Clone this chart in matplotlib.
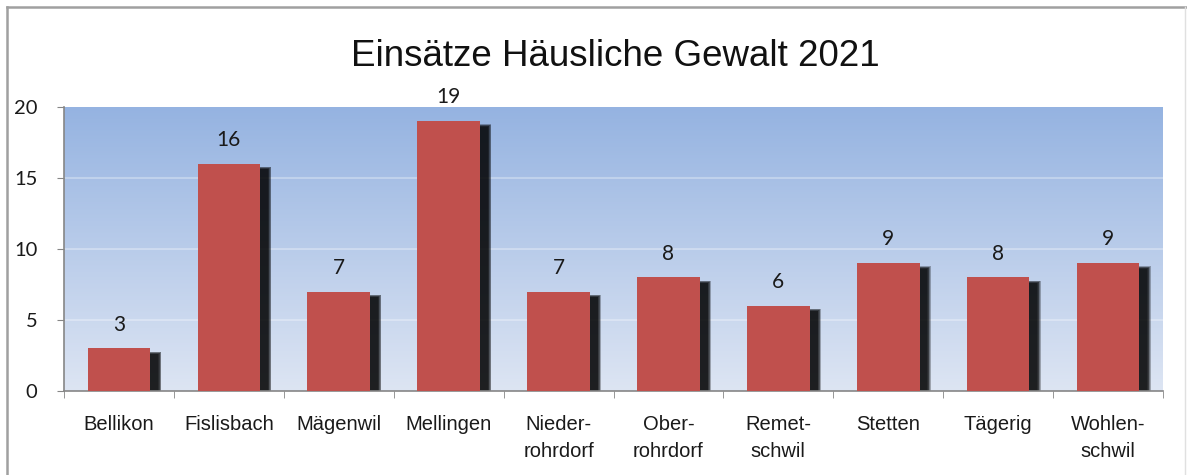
import matplotlib
matplotlib.use("Agg")
import matplotlib.pyplot as plt
import numpy as np
from matplotlib.lines import Line2D
from matplotlib.patches import Rectangle

categories = ["Bellikon", "Fislisbach", "Mägenwil", "Mellingen", "Nieder-\nrohrdorf",
              "Ober-\nrohrdorf", "Remet-\nschwil", "Stetten", "Tägerig", "Wohlen-\nschwil"]
values = [3, 16, 7, 19, 7, 8, 6, 9, 8, 9]
yticks = [0, 5, 10, 15, 20]
title = "Einsätze Häusliche Gewalt 2021"

narrow = ["Liberation Sans", "DejaVu Sans"]
numfont = ["Lato", "DejaVu Sans"]

fig = plt.figure(figsize=(11.87, 4.75), dpi=100)
ax = fig.add_axes([64/1187, 1-391/475, (1163-64)/1187, (391-107)/475])

x = np.arange(len(categories))
ax.set_xlim(-0.5, len(categories)-0.5)
ax.set_ylim(0, 20)

# gradient background
grad = np.linspace(0, 1, 256).reshape(-1, 1)
top = np.array([149, 179, 225]) / 255
bot = np.array([221, 229, 243]) / 255
img = bot[None, None, :] * (1 - grad[:, :, None]) + top[None, None, :] * grad[:, :, None]
ax.imshow(img, extent=[-0.5, len(categories)-0.5, 0, 20], origin="lower",
          aspect="auto", zorder=0)

for yv in yticks[1:-1]:
    ax.axhline(yv, color="white", alpha=0.3, lw=1.5, zorder=1)

width = 0.57
# blurred shadows
dx, dy = 0.072, 0.40
layers = 6
for i, v in enumerate(values):
    for k in range(layers):
        spread = (layers - 1 - k) * 0.006
        ax.add_patch(Rectangle((i - width/2 + dx - spread, 0), width + 2*spread,
                               v - dy + spread * 6, facecolor="black", alpha=0.28,
                               edgecolor="none", zorder=2))

ax.bar(x, values, width=width, color="#C0504D", zorder=3)
for i, v in enumerate(values):
    ax.annotate(str(v), (i, v), xytext=(0, 10), textcoords="offset points",
                ha="center", va="bottom", fontsize=15, family=numfont,
                color="#1a1a1a", zorder=5, annotation_clip=False)

ax.set_yticks(yticks)
ax.set_yticklabels([str(t) for t in yticks], family=numfont, fontsize=14.5, color="#1a1a1a")
ax.set_xticks(x)
ax.set_xticklabels(categories, family=narrow, fontsize=14.5, color="#1a1a1a", linespacing=1.55)
ax.set_xticks(np.arange(-0.5, len(categories), 1), minor=True)
ax.tick_params(axis="x", which="major", length=0, pad=17)
ax.tick_params(axis="x", which="minor", length=5, color="#868686", direction="out")
ax.tick_params(axis="y", length=5, color="#868686", direction="out", pad=14)

for s in ["top", "right"]:
    ax.spines[s].set_visible(False)
for s in ["left", "bottom"]:
    ax.spines[s].set_color("#868686")
    ax.spines[s].set_linewidth(1.2)

fig.text(615/1187, 1-56/475, title, ha="center", va="center", fontsize=26.5,
         family=narrow, color="#111111")

# outer frame
fig.add_artist(Line2D([7/1187, 1], [1-7/475, 1-7/475], color="#A0A0A0", lw=1.8))
fig.add_artist(Line2D([7/1187, 7/1187], [0, 1-7/475], color="#A0A0A0", lw=1.8))
fig.add_artist(Line2D([1185/1187, 1185/1187], [0, 1-7/475], color="#E0E0E0", lw=1))

fig.savefig("out.png", dpi=100)
